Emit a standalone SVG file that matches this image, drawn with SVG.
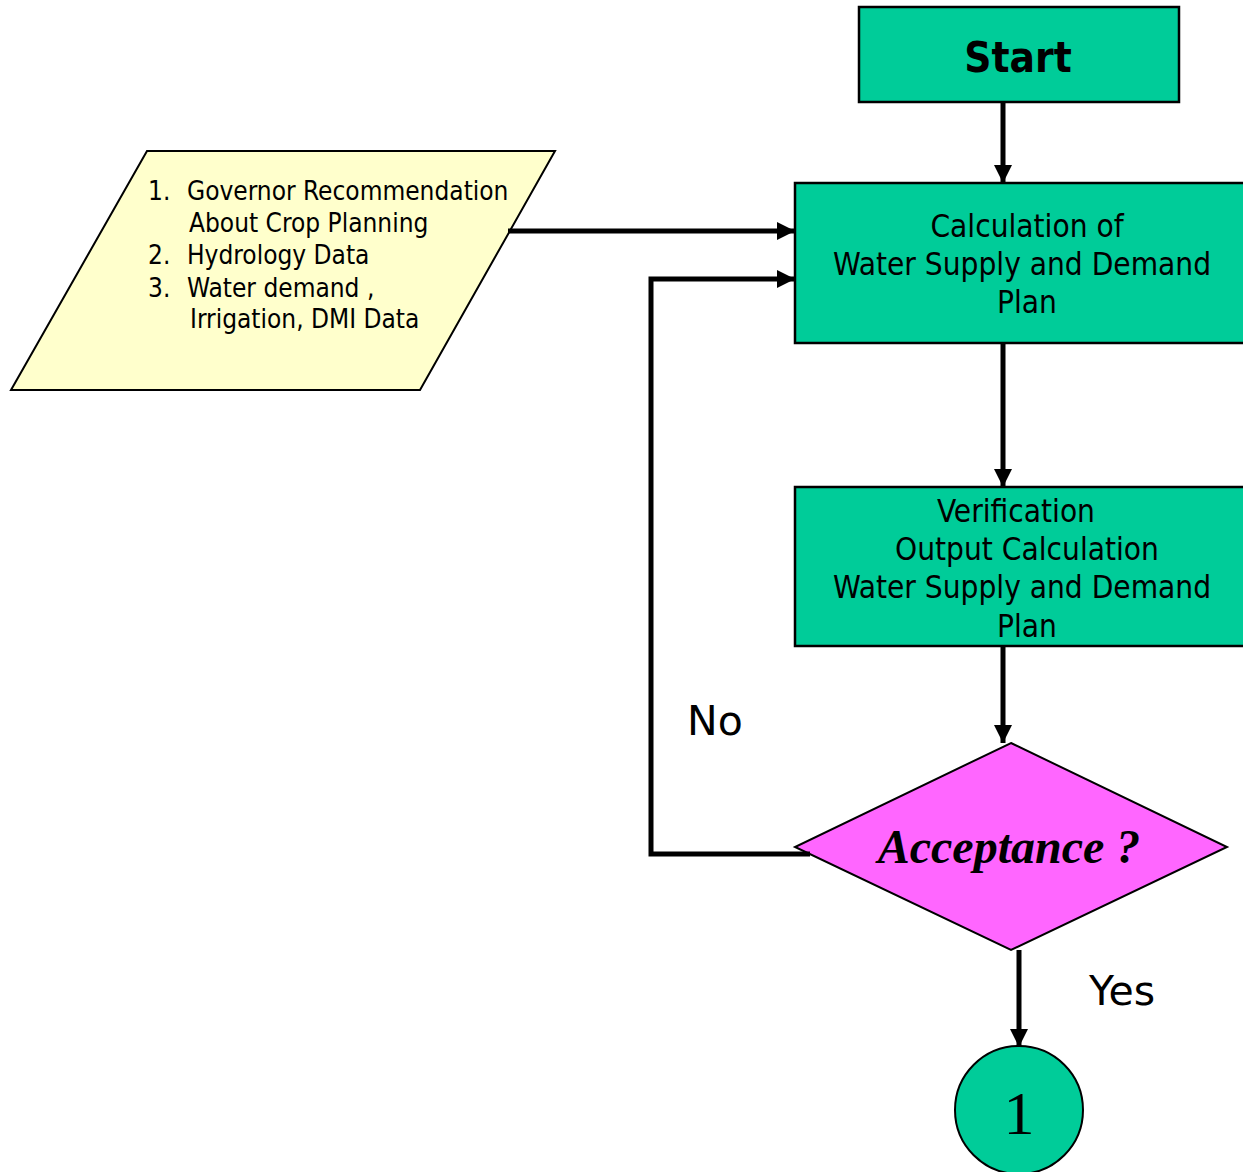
<svg xmlns="http://www.w3.org/2000/svg" width="1243" height="1172" viewBox="0 0 1243 1172">
<defs>
<style>
.box{fill:#00CC99;stroke:#000;stroke-width:2.5}
.t{font-family:'DejaVu Sans Condensed','Liberation Sans',sans-serif;fill:#000}
.c{text-anchor:middle;font-size:31.3px}
.p{font-size:26px}
.lbl{font-family:'DejaVu Sans','Liberation Sans',sans-serif;font-size:41px;fill:#000}
.conn{fill:none;stroke:#000;stroke-width:5}
</style>
<marker id="ah" markerUnits="userSpaceOnUse" markerWidth="20" markerHeight="20" refX="18" refY="9" orient="auto">
<path d="M0,0 L18,9 L0,18 Z" fill="#000"/>
</marker>
</defs>
<rect width="1243" height="1172" fill="#fff"/>

<g id="input">
<polygon points="147,151 555,151 420,390 11,390" fill="#FFFFCC" stroke="#000" stroke-width="2"/>
<text class="t p" x="148" y="200">1.</text>
<text class="t p" x="187" y="200">Governor Recommendation</text>
<text class="t p" x="189" y="232">About Crop Planning</text>
<text class="t p" x="148" y="264">2.</text>
<text class="t p" x="187" y="264">Hydrology Data</text>
<text class="t p" x="148" y="297">3.</text>
<text class="t p" x="187" y="297">Water demand ,</text>
<text class="t p" x="190" y="328">Irrigation, DMI Data</text>
</g>

<g id="start">
<rect class="box" x="859" y="7" width="320" height="95"/>
<text class="t" x="1018" y="72" font-size="42" font-weight="bold" text-anchor="middle">Start</text>
</g>

<g id="calc">
<rect class="box" x="795" y="183" width="470" height="160"/>
<text class="t c" x="1027" y="237">Calculation of</text>
<text class="t c" x="1022" y="275">Water Supply and Demand</text>
<text class="t c" x="1027" y="313">Plan</text>
</g>

<g id="verify">
<rect class="box" x="795" y="487" width="470" height="159"/>
<text class="t c" x="1016" y="522">Verification</text>
<text class="t c" x="1027" y="560">Output Calculation</text>
<text class="t c" x="1022" y="598">Water Supply and Demand</text>
<text class="t c" x="1027" y="637">Plan</text>
</g>

<g id="decision">
<polygon points="1011,743 1227,847 1011,950 795,847" fill="#FF66FF" stroke="#000" stroke-width="2"/>
<text x="1009" y="863" font-family="'Liberation Serif',serif" font-size="48" font-weight="bold" font-style="italic" text-anchor="middle">Acceptance ?</text>
</g>

<g id="connector1">
<circle cx="1019" cy="1110" r="64" fill="#00CC99" stroke="#000" stroke-width="2"/>
<text x="1019" y="1134" font-family="'Liberation Serif',serif" font-size="62" text-anchor="middle">1</text>
</g>

<g id="connectors">
<line class="conn" x1="1003" y1="102" x2="1003" y2="183" marker-end="url(#ah)"/>
<line class="conn" x1="508" y1="231" x2="795" y2="231" marker-end="url(#ah)"/>
<line class="conn" x1="1003" y1="343" x2="1003" y2="487" marker-end="url(#ah)"/>
<line class="conn" x1="1003" y1="646" x2="1003" y2="743" marker-end="url(#ah)"/>
<path class="conn" d="M810,854 H651 V279 H795" marker-end="url(#ah)"/>
<line class="conn" x1="1019" y1="950" x2="1019" y2="1047" marker-end="url(#ah)"/>
<text class="lbl" x="687" y="735">No</text>
<text class="lbl" x="1089" y="1005">Yes</text>
</g>
</svg>
